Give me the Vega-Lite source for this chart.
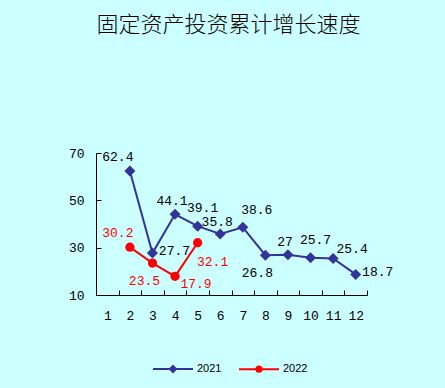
{
  "$schema": "https://vega.github.io/schema/vega-lite/v6.json",
  "width": 271,
  "height": 142,
  "autosize": {"type": "none"},
  "padding": {"left": 96, "top": 153, "right": 78, "bottom": 93},
  "background": "#CCFFFF",
  "title": {
    "text": "固定资产投资累计增长速度",
    "font": "Noto Sans CJK SC",
    "fontSize": 22,
    "fontWeight": 300,
    "color": "#000000",
    "anchor": "middle",
    "frame": "group",
    "offset": 110,
    "dx": -3
  },
  "config": {
    "view": {"stroke": null},
    "axis": {
      "domainColor": "#000000",
      "tickColor": "#000000",
      "labelFont": "Liberation Mono",
      "labelFontSize": 13,
      "labelColor": "#000000",
      "grid": false,
      "domainWidth": 1,
      "tickWidth": 1,
      "title": null
    }
  },
  "data": {
    "values": [
      {"year": "2021", "month": 2, "value": 62.4},
      {"year": "2021", "month": 3, "value": 27.7},
      {"year": "2021", "month": 4, "value": 44.1},
      {"year": "2021", "month": 5, "value": 39.1},
      {"year": "2021", "month": 6, "value": 35.8},
      {"year": "2021", "month": 7, "value": 38.6},
      {"year": "2021", "month": 8, "value": 26.8},
      {"year": "2021", "month": 9, "value": 27},
      {"year": "2021", "month": 10, "value": 25.7},
      {"year": "2021", "month": 11, "value": 25.4},
      {"year": "2021", "month": 12, "value": 18.7},
      {"year": "2022", "month": 2, "value": 30.2},
      {"year": "2022", "month": 3, "value": 23.5},
      {"year": "2022", "month": 4, "value": 17.9},
      {"year": "2022", "month": 5, "value": 32.1}
    ]
  },
  "encoding": {
    "x": {
      "field": "month",
      "type": "ordinal",
      "scale": {"domain": [1, 2, 3, 4, 5, 6, 7, 8, 9, 10, 11, 12], "paddingInner": 0, "paddingOuter": 0},
      "axis": {"labelAngle": 0, "tickBand": "extent", "tickSize": -5, "labelPadding": 19}
    },
    "y": {
      "field": "value",
      "type": "quantitative",
      "scale": {"domain": [10, 70], "nice": false, "zero": false},
      "axis": {"values": [10, 30, 50, 70], "tickSize": -5, "labelPadding": 17}
    }
  },
  "layer": [
    {
      "mark": {"type": "line", "strokeWidth": 2},
      "encoding": {
        "color": {
          "field": "year",
          "type": "nominal",
          "scale": {"domain": ["2021", "2022"], "range": ["#333399", "#FF0000"]},
          "legend": {
            "orient": "none",
            "legendX": 56,
            "legendY": 195,
            "direction": "horizontal",
            "title": null,
            "symbolSize": 1600,
            "labelFont": "Liberation Sans",
            "labelFontSize": 11,
            "labelColor": "#000000",
            "labelOffset": 3,
            "columnPadding": 13,
            "encode": {
              "symbols": {
                "update": {
                  "shape": {"signal": "datum.value == '2021' ? 'M-1,0L1,0M0,-0.15L0.15,0L0,0.15L-0.15,0Z' : 'M-1,0L1,0M-0.13,0A0.13,0.13,0,1,0,0.13,0A0.13,0.13,0,1,0,-0.13,0Z'"},
                  "fill": {"signal": "datum.value == '2021' ? '#333399' : '#FF0000'"},
                  "stroke": {"signal": "datum.value == '2021' ? '#333399' : '#FF0000'"},
                  "strokeWidth": {"value": 2},
                  "size": {"value": 1600},
                  "opacity": {"value": 1}
                }
              }
            }
          }
        }
      }
    },
    {
      "transform": [{"filter": "datum.year == '2021'"}],
      "mark": {"type": "point", "shape": "diamond", "filled": true, "opacity": 1, "size": 121, "color": "#333399"}
    },
    {
      "transform": [{"filter": "datum.year == '2022'"}],
      "mark": {"type": "point", "shape": "circle", "filled": true, "opacity": 1, "size": 85, "color": "#FF0000"}
    },
    {
      "transform": [{"filter": "datum.year == '2021' && indexof([4,9], datum.month) >= 0"}],
      "mark": {"type": "text", "font": "Liberation Mono", "fontSize": 13, "dx": -3, "dy": -13, "color": "#000000"},
      "encoding": {"text": {"field": "value", "type": "quantitative"}}
    },
    {
      "transform": [{"filter": "datum.year == '2021' && datum.month == 6"}],
      "mark": {"type": "text", "font": "Liberation Mono", "fontSize": 13, "dx": -3, "dy": -12, "color": "#000000"},
      "encoding": {"text": {"field": "value", "type": "quantitative"}}
    },
    {
      "transform": [{"filter": "datum.year == '2021' && indexof([5,10], datum.month) >= 0"}],
      "mark": {"type": "text", "font": "Liberation Mono", "fontSize": 13, "dx": 5, "dy": -18, "color": "#000000"},
      "encoding": {"text": {"field": "value", "type": "quantitative"}}
    },
    {
      "transform": [{"filter": "datum.year == '2021' && datum.month == 7"}],
      "mark": {"type": "text", "font": "Liberation Mono", "fontSize": 13, "dx": 14, "dy": -17, "color": "#000000"},
      "encoding": {"text": {"field": "value", "type": "quantitative"}}
    },
    {
      "transform": [{"filter": "datum.month == 2"}],
      "mark": {"type": "text", "font": "Liberation Mono", "fontSize": 13, "dx": -12, "dy": -14},
      "encoding": {
        "text": {"field": "value", "type": "quantitative"},
        "color": {"condition": {"test": "datum.year == '2022'", "value": "#FF0000"}, "value": "#000000"}
      }
    },
    {
      "transform": [{"filter": "datum.year == '2021' && indexof([3,12], datum.month) >= 0"}],
      "mark": {"type": "text", "font": "Liberation Mono", "fontSize": 13, "dx": 22, "dy": -2, "color": "#000000"},
      "encoding": {"text": {"field": "value", "type": "quantitative"}}
    },
    {
      "transform": [{"filter": "datum.year == '2021' && datum.month == 11"}],
      "mark": {"type": "text", "font": "Liberation Mono", "fontSize": 13, "dx": 19, "dy": -10, "color": "#000000"},
      "encoding": {"text": {"field": "value", "type": "quantitative"}}
    },
    {
      "transform": [{"filter": "(datum.year == '2021' && datum.month == 8) || (datum.year == '2022' && datum.month == 3)"}],
      "mark": {"type": "text", "font": "Liberation Mono", "fontSize": 13, "dx": -8, "dy": 18},
      "encoding": {
        "text": {"field": "value", "type": "quantitative"},
        "color": {"condition": {"test": "datum.year == '2022'", "value": "#FF0000"}, "value": "#000000"}
      }
    },
    {
      "transform": [{"filter": "datum.year == '2022' && datum.month == 4"}],
      "mark": {"type": "text", "font": "Liberation Mono", "fontSize": 13, "dx": 21, "dy": 8, "color": "#FF0000"},
      "encoding": {"text": {"field": "value", "type": "quantitative"}}
    },
    {
      "transform": [{"filter": "datum.year == '2022' && datum.month == 5"}],
      "mark": {"type": "text", "font": "Liberation Mono", "fontSize": 13, "dx": 15, "dy": 19, "color": "#FF0000"},
      "encoding": {"text": {"field": "value", "type": "quantitative"}}
    }
  ]
}
